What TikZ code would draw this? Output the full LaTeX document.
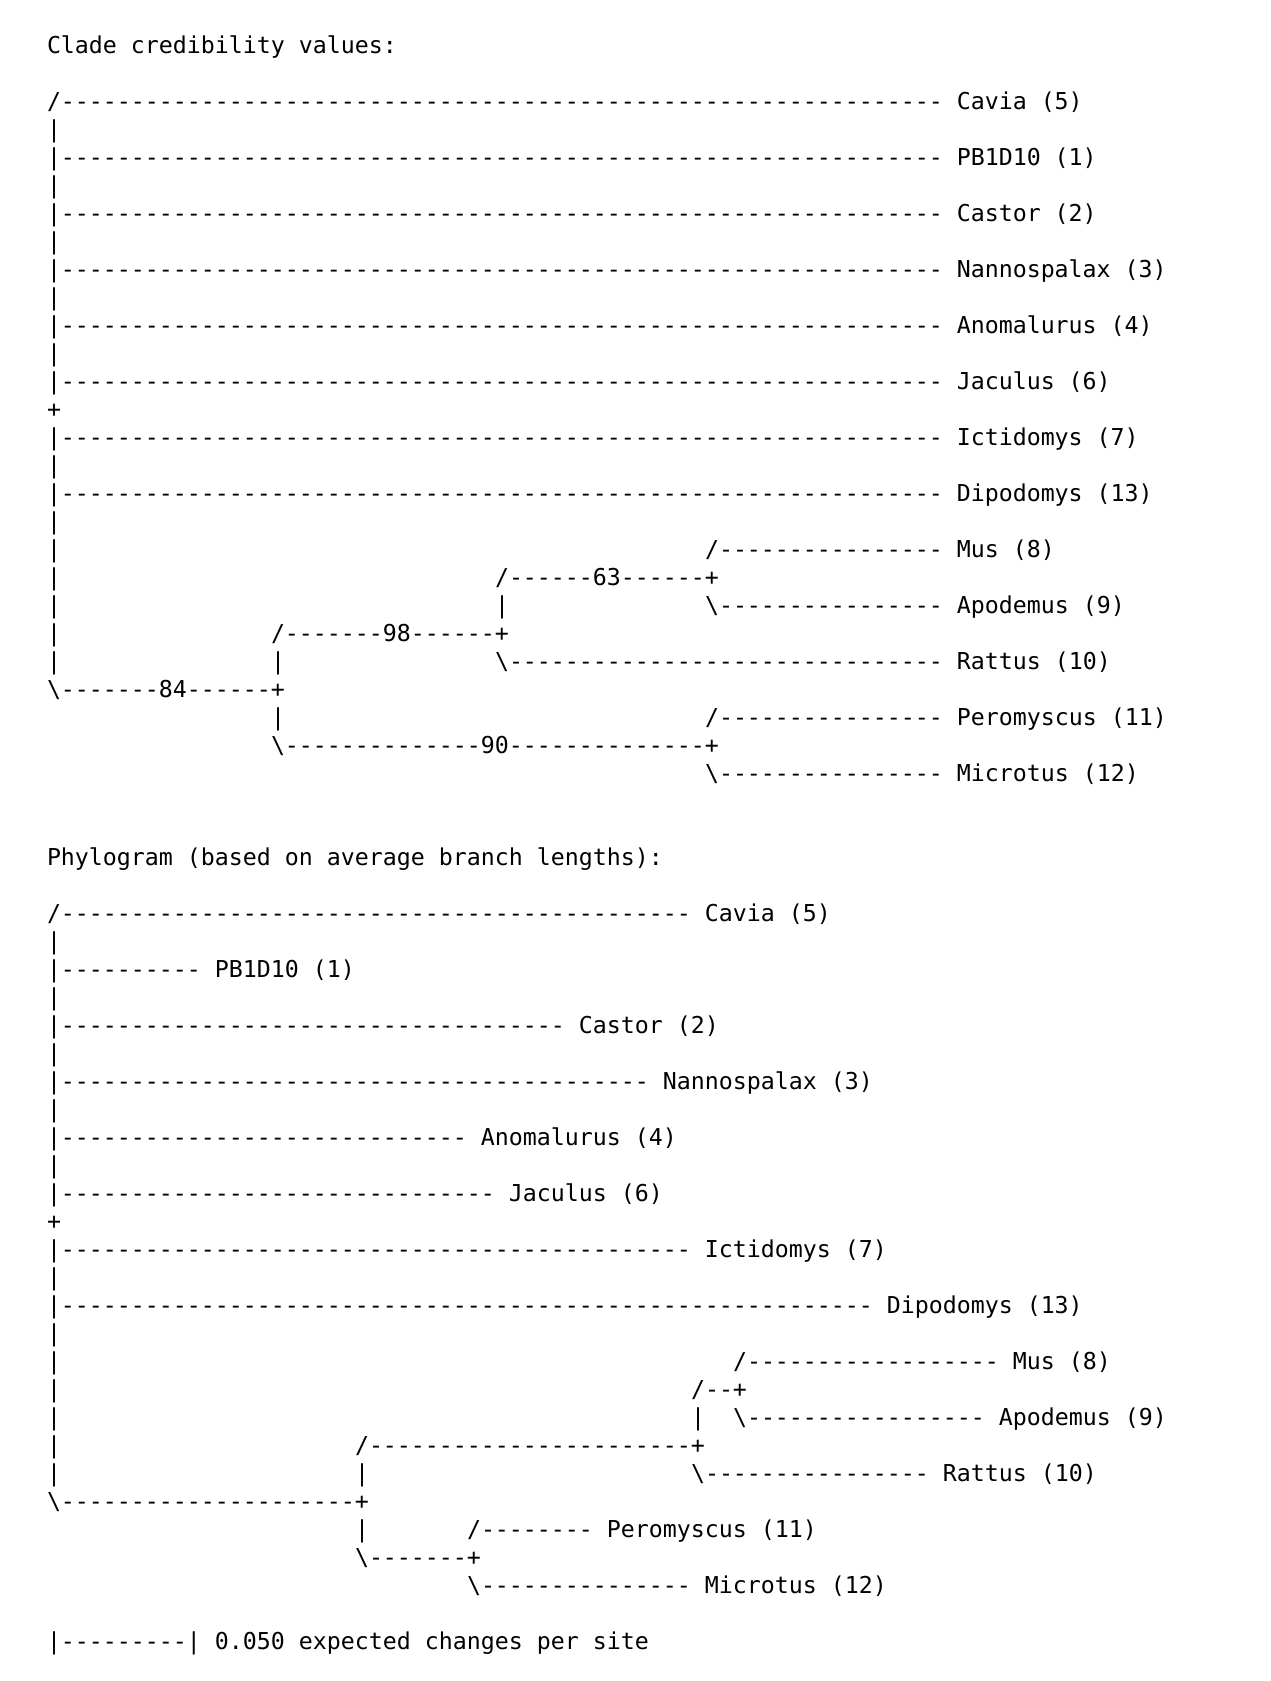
\documentclass[tikz,border=0pt]{standalone}
\usepackage{fontspec}
\setmonofont{DejaVu Sans Mono}
\ExplSyntaxOn
\NewDocumentCommand\dsh{m}{\prg_replicate:nn{#1}{-}}
\ExplSyntaxOff
\newcommand\bs{\textbackslash}
\tikzset{seg/.style={anchor=base west, inner sep=0pt, outer sep=0pt, text=black,
  font=\ttfamily\fontsize{23.25}{28}\selectfont}}
\newcommand\asc[3]{\node[seg] (l#1c#2) at ({47+#2*14},{-(53.3+(#1-1)*28)}) {#3};}
\begin{document}
\begin{tikzpicture}[x=1pt,y=1pt]
\fill[white] (0,0) rectangle (1270,-1681);
\useasboundingbox (0,0) rectangle (1270,-1681);
% ---- Clade credibility tree
\asc{1}{0}{Clade credibility values:}
\asc{3}{0}{/\dsh{63} Cavia (5)}
\asc{4}{0}{|}
\asc{5}{0}{|\dsh{63} PB1D10 (1)}
\asc{6}{0}{|}
\asc{7}{0}{|\dsh{63} Castor (2)}
\asc{8}{0}{|}
\asc{9}{0}{|\dsh{63} Nannospalax (3)}
\asc{10}{0}{|}
\asc{11}{0}{|\dsh{63} Anomalurus (4)}
\asc{12}{0}{|}
\asc{13}{0}{|\dsh{63} Jaculus (6)}
\asc{14}{0}{+}
\asc{15}{0}{|\dsh{63} Ictidomys (7)}
\asc{16}{0}{|}
\asc{17}{0}{|\dsh{63} Dipodomys (13)}
\asc{18}{0}{|}
\asc{19}{0}{|}
\asc{19}{47}{/\dsh{16} Mus (8)}
\asc{20}{0}{|}
\asc{20}{32}{/\dsh{6}63\dsh{6}+}
\asc{21}{0}{|}
\asc{21}{32}{|}
\asc{21}{47}{\bs\dsh{16} Apodemus (9)}
\asc{22}{0}{|}
\asc{22}{16}{/\dsh{7}98\dsh{6}+}
\asc{23}{0}{|}
\asc{23}{16}{|}
\asc{23}{32}{\bs\dsh{31} Rattus (10)}
\asc{24}{0}{\bs\dsh{7}84\dsh{6}+}
\asc{25}{16}{|}
\asc{25}{47}{/\dsh{16} Peromyscus (11)}
\asc{26}{16}{\bs\dsh{14}90\dsh{14}+}
\asc{27}{47}{\bs\dsh{16} Microtus (12)}
% ---- Phylogram
\asc{30}{0}{Phylogram (based on average branch lengths):}
\asc{32}{0}{/\dsh{45} Cavia (5)}
\asc{33}{0}{|}
\asc{34}{0}{|\dsh{10} PB1D10 (1)}
\asc{35}{0}{|}
\asc{36}{0}{|\dsh{36} Castor (2)}
\asc{37}{0}{|}
\asc{38}{0}{|\dsh{42} Nannospalax (3)}
\asc{39}{0}{|}
\asc{40}{0}{|\dsh{29} Anomalurus (4)}
\asc{41}{0}{|}
\asc{42}{0}{|\dsh{31} Jaculus (6)}
\asc{43}{0}{+}
\asc{44}{0}{|\dsh{45} Ictidomys (7)}
\asc{45}{0}{|}
\asc{46}{0}{|\dsh{58} Dipodomys (13)}
\asc{47}{0}{|}
\asc{48}{0}{|}
\asc{48}{49}{/\dsh{18} Mus (8)}
\asc{49}{0}{|}
\asc{49}{46}{/\dsh{2}+}
\asc{50}{0}{|}
\asc{50}{46}{|}
\asc{50}{49}{\bs\dsh{17} Apodemus (9)}
\asc{51}{0}{|}
\asc{51}{22}{/\dsh{23}+}
\asc{52}{0}{|}
\asc{52}{22}{|}
\asc{52}{46}{\bs\dsh{16} Rattus (10)}
\asc{53}{0}{\bs\dsh{21}+}
\asc{54}{22}{|}
\asc{54}{30}{/\dsh{8} Peromyscus (11)}
\asc{55}{22}{\bs\dsh{7}+}
\asc{56}{30}{\bs\dsh{15} Microtus (12)}
\asc{58}{0}{|\dsh{9}| 0.050 expected changes per site}
\end{tikzpicture}
\end{document}
